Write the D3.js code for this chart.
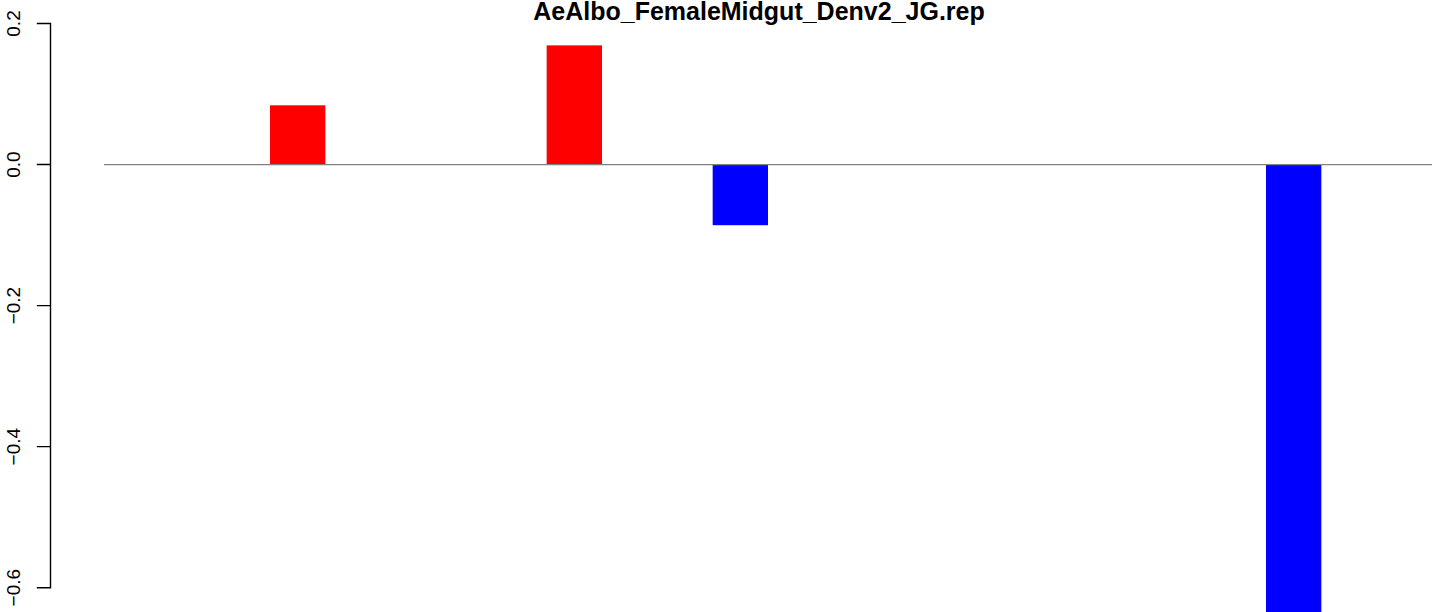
<!DOCTYPE html>
<html>
<head>
<meta charset="utf-8">
<script src="https://cdn.jsdelivr.net/npm/d3@7"></script>
<style>
  html, body { margin: 0; padding: 0; background: #fff; }
  svg { display: block; }
  text { font-family: "Liberation Sans", Arial, Helvetica, sans-serif; }
</style>
</head>
<body>
<svg id="chart" width="1433" height="612"></svg>
<script>
const title = "AeAlbo_FemaleMidgut_Denv2_JG.rep";
const categories = d3.range(1, 25).map(String);
const values = [0, 0, 0, 0.084, 0, 0, 0, 0, 0.169, 0, 0, -0.086,
                0, 0, 0, 0, 0, 0, 0, 0, 0, -0.66, 0, 0];
const yTicks = [0.2, 0.0, -0.2, -0.4, -0.6];
const yTickLabels = ["0.2", "0.0", "\u22120.2", "\u22120.4", "\u22120.6"];

const svg = d3.select("#chart");
const W = 1433, H = 612;

const x = d3.scaleBand().domain(categories).range([104, 1432]).padding(0);
const y = d3.scaleLinear().domain([0.2, -0.6]).range([23.5, 587.7]);

svg.append("defs").append("clipPath").attr("id", "clip")
  .append("rect").attr("x", 0).attr("y", 0).attr("width", W).attr("height", H);

const g = svg.append("g").attr("clip-path", "url(#clip)");

g.selectAll("rect.bar")
  .data(values.map((v, i) => ({ c: categories[i], v })).filter(d => d.v !== 0))
  .enter().append("rect")
  .attr("class", "bar")
  .attr("x", d => x(d.c))
  .attr("width", x.bandwidth())
  .attr("y", d => y(Math.max(0, d.v)))
  .attr("height", d => Math.abs(y(d.v) - y(0)))
  .attr("fill", d => d.v > 0 ? "#FF0000" : "#0000FF");

// zero line
g.append("line")
  .attr("x1", x(categories[0]))
  .attr("x2", x(categories[categories.length - 1]) + x.bandwidth())
  .attr("y1", y(0)).attr("y2", y(0))
  .attr("stroke", "#808080").attr("stroke-width", 1.2);

// y axis (drawn from the scale)
const axisX = 50.5;
const ax = svg.append("g").attr("class", "yaxis");
const axisPath = d3.path();
axisPath.moveTo(axisX, y(yTicks[0]));
axisPath.lineTo(axisX, y(yTicks[yTicks.length - 1]));
yTicks.forEach(t => {
  axisPath.moveTo(axisX - 13, y(t));
  axisPath.lineTo(axisX, y(t));
});
ax.append("path")
  .attr("d", axisPath.toString())
  .attr("fill", "none")
  .attr("stroke", "#000")
  .attr("stroke-width", 1.4)
  .attr("stroke-linecap", "square");

ax.selectAll("text.ylab").data(yTicks).enter().append("text")
  .attr("class", "ylab")
  .attr("transform", d => `translate(20,${y(d)}) rotate(-90)`)
  .attr("text-anchor", "middle")
  .attr("font-size", 19)
  .attr("fill", "#000")
  .text((d, i) => yTickLabels[i]);

// title
svg.append("text")
  .attr("x", 759)
  .attr("y", 20)
  .attr("text-anchor", "middle")
  .attr("font-weight", "bold")
  .attr("font-size", 25)
  .attr("fill", "#000")
  .text(title);
</script>
</body>
</html>
